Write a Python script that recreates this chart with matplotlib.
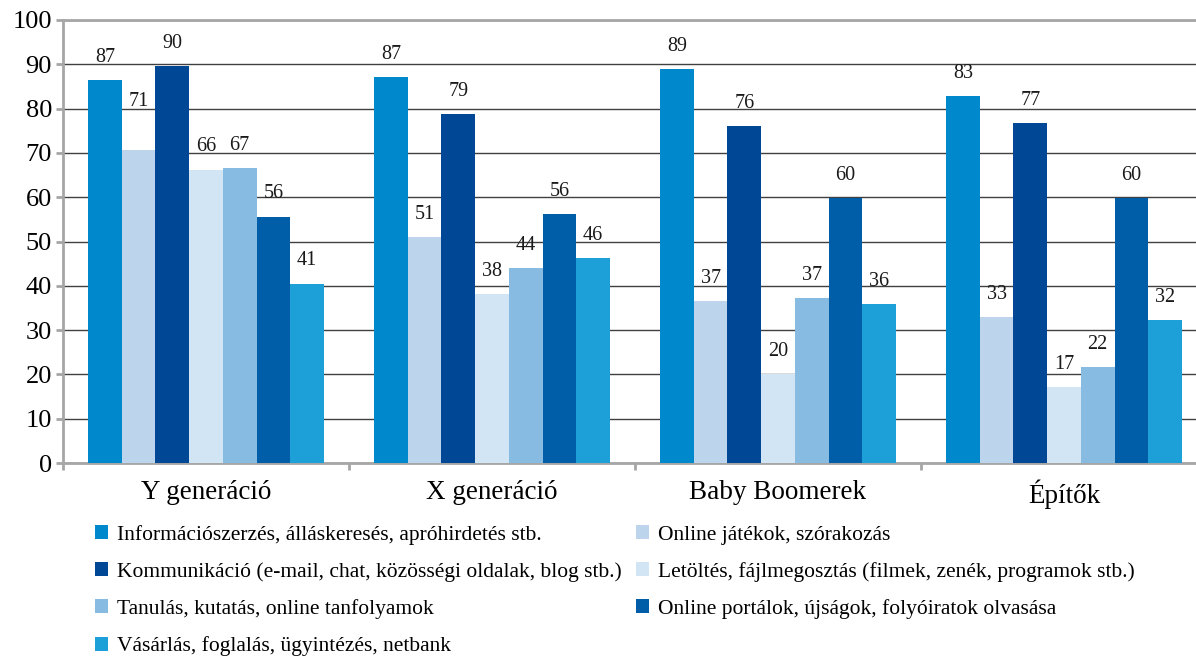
import matplotlib
matplotlib.use("Agg")
import matplotlib.pyplot as plt
import numpy as np

plt.rcParams['font.family'] = ['Liberation Serif', 'DejaVu Serif']

# csoportok (x tengely)
groups = ['Y generáció', 'X generáció', 'Baby Boomerek', 'Építők']

# tevékenységek (sorozatok) a rajzolás sorrendjében
series_names = [
    'Információszerzés, álláskeresés, apróhirdetés stb.',
    'Online játékok, szórakozás',
    'Kommunikáció (e-mail, chat, közösségi oldalak, blog stb.)',
    'Letöltés, fájlmegosztás (filmek, zenék, programok stb.)',
    'Tanulás, kutatás, online tanfolyamok',
    'Online portálok, újságok, folyóiratok olvasása',
    'Vásárlás, foglalás, ügyintézés, netbank',
]
series_colors = ['#0088CC', '#BCD4EC', '#004896', '#D2E5F4',
                 '#88BBE2', '#005EA8', '#1DA0D8']

# értékek (%), csoportonként
info = [86.5, 87.1, 88.9, 82.8]
jatek = [70.6, 51.0, 36.6, 33.0]
kommunikacio = [89.6, 78.8, 76.1, 76.7]
letoltes = [66.2, 38.1, 20.1, 17.1]
tanulas = [66.6, 44.0, 37.2, 21.7]
portalok = [55.6, 56.2, 59.8, 59.8]
vasarlas = [40.5, 46.3, 35.9, 32.3]
values = [info, jatek, kommunikacio, letoltes, tanulas, portalok, vasarlas]

fig = plt.figure(figsize=(11.96, 6.64), dpi=100)
ax = fig.add_axes([63/1196, 1 - 463/664, 1144/1196, 443/664])

n = len(series_names)
bar_w = 33.7 / 286
x = np.arange(len(groups))
# címke feljebb tolva (ütközés elkerülése, mint az eredetin)
label_shift = {(1, 0): 5.8}
handles = []
for i, (vals, col, name) in enumerate(zip(values, series_colors, series_names)):
    pos = x + (i - (n - 1) / 2) * bar_w
    b = ax.bar(pos, vals, bar_w, color=col, zorder=3, label=name)
    handles.append(b)
    for j, (px, v) in enumerate(zip(pos, vals)):
        dy = 3.0 + label_shift.get((i, j), 0)
        ax.text(px, v + dy, f'{int(v + 0.5)}', ha='center', va='bottom',
                fontsize=14.5, color='#1a1a1a', zorder=4)

ax.set_xlim(-0.5, len(groups) - 0.5)
ax.set_ylim(0, 100)
ax.set_yticks(np.arange(0, 101, 10))
ax.yaxis.grid(True, color='#404040', linewidth=1.0, zorder=0)
ax.set_axisbelow(True)

# csoporthatárok tick-jei
ax.set_xticks(np.arange(-0.5, len(groups), 1.0))
ax.set_xticklabels([])
ax.set_xticks(x, minor=True)
ax.set_xticklabels(groups, minor=True, fontsize=19.5)
ax.tick_params(axis='x', which='minor', length=0, pad=12)
ax.tick_params(axis='x', which='major', length=5, width=2, color='#A6A6A6')
ax.tick_params(axis='y', length=5, width=2, color='#A6A6A6', labelsize=19, pad=3)

ax.spines['right'].set_visible(False)
for side in ['left', 'bottom', 'top']:
    ax.spines[side].set_color('#A6A6A6')
    ax.spines[side].set_linewidth(2)

# jelmagyarázat két oszlopban (soronként balról jobbra)
col1 = [0, 2, 4, 6]
col2 = [1, 3, 5]
leg_kw = dict(loc='upper left', frameon=False, fontsize=15.5,
              handlelength=0.62, handleheight=0.62, handletextpad=0.4,
              labelspacing=0.8, borderaxespad=0, borderpad=0)
fig.legend([handles[i] for i in col1], [series_names[i] for i in col1],
           bbox_to_anchor=(95/1196, 1 - 525/664), **leg_kw)
fig.legend([handles[i] for i in col2], [series_names[i] for i in col2],
           bbox_to_anchor=(636/1196, 1 - 525/664), **leg_kw)

fig.savefig('out.png', dpi=100)
